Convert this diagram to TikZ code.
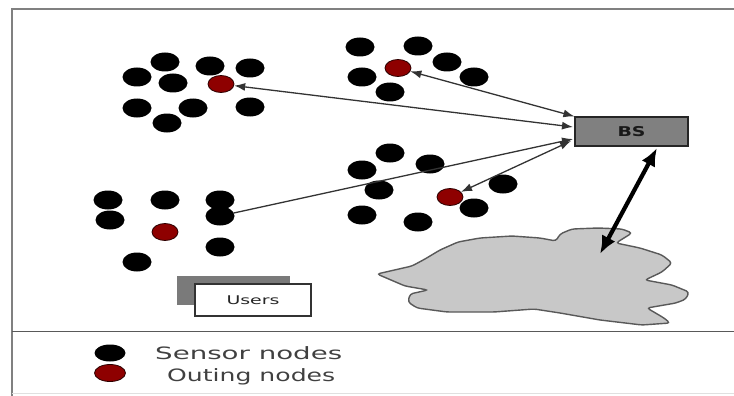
\documentclass[tikz,border=0pt]{standalone}
\usepackage{fontspec}
\setmainfont{DejaVu Sans}
\usetikzlibrary{shapes.geometric,arrows.meta}
\definecolor{outred}{HTML}{8E0000}
\definecolor{frame}{HTML}{808080}
\definecolor{cloudfill}{HTML}{C8C8C8}
\definecolor{bsfill}{HTML}{808080}
\definecolor{txtgray}{HTML}{404040}
\begin{document}
\begin{tikzpicture}[x=1pt,y=-1pt,
  sensor/.style={ellipse,fill=black,minimum width=29pt,minimum height=19pt,inner sep=0pt},
  outing/.style={ellipse,fill=outred,draw=black!70!outred,line width=0.8pt,minimum width=26pt,minimum height=17pt,inner sep=0pt},
  link/.style={draw=black!80,line width=1.3pt},
  >={Latex[length=11pt,width=8pt]},
  wide/.style={inner sep=0pt,text=txtgray}
]
\useasboundingbox (0,0) rectangle (734,396);

% frame
\draw[frame,line width=2pt] (12,396) -- (12,9.5) -- (734,9.5);
\draw[black!65,line width=1.4pt] (12,331.5) -- (734,331.5);
\draw[black!12,line width=1pt] (12,393) -- (734,393);

% cluster 1
\node[sensor] (c1a) at (165,62) {};
\node[sensor] (c1b) at (210,66) {};
\node[sensor] (c1c) at (250,68) {};
\node[sensor] (c1d) at (137,77) {};
\node[sensor] (c1e) at (173,83) {};
\node[outing] (c1r) at (221,84) {};
\node[sensor] (c1f) at (137,108) {};
\node[sensor] (c1g) at (193,108) {};
\node[sensor] (c1h) at (250,107) {};
\node[sensor] (c1i) at (167,123) {};

% cluster 2
\node[sensor] (c2a) at (360,47) {};
\node[sensor] (c2b) at (418,46) {};
\node[sensor] (c2c) at (447,62) {};
\node[outing] (c2r) at (398,68) {};
\node[sensor] (c2d) at (362,77) {};
\node[sensor] (c2e) at (474,77) {};
\node[sensor] (c2f) at (390,92) {};

% cluster 3
\node[sensor] (c3a) at (390,153) {};
\node[sensor] (c3b) at (430,164) {};
\node[sensor] (c3c) at (362,170) {};
\node[sensor] (c3d) at (379,190) {};
\node[outing] (c3r) at (450,197) {};
\node[sensor] (c3e) at (503,184) {};
\node[sensor] (c3f) at (474,208) {};
\node[sensor] (c3g) at (362,215) {};
\node[sensor] (c3h) at (418,222) {};

% cluster 4
\node[sensor] (c4a) at (108,200) {};
\node[sensor] (c4b) at (165,200) {};
\node[sensor] (c4c) at (220,200) {};
\node[sensor] (c4d) at (110,220) {};
\node[sensor] (c4e) at (220,216) {};
\node[outing] (c4r) at (165,232) {};
\node[sensor] (c4f) at (220,247) {};
\node[sensor] (c4g) at (137,262) {};

% base station
\node[draw=black!85,line width=1.2pt,fill=bsfill,minimum width=113pt,minimum height=29pt,inner sep=0pt]
  (bs) at (631.5,131.5) {\resizebox{28pt}{\height}{\fontsize{13.5}{15}\selectfont\bfseries\color{black!90}BS}};
\coordinate (bsw1) at (573,127);
\coordinate (bsw3) at (573,139);
\coordinate (bsw4) at (571,141);
\coordinate (bss) at (657,148);

% users
\node[fill=frame!95!black,minimum width=113pt,minimum height=29pt,inner sep=0pt] (ushade) at (233.5,290.5) {};
\node[draw=black!80,line width=1.2pt,fill=white,minimum width=116pt,minimum height=32pt,inner sep=0pt]
  (users) at (253,300) {\resizebox{53pt}{\height}{\fontsize{12}{14}\selectfont\color{black!85}Users}};

% cloud
\draw[black!65,line width=1.4pt,fill=cloudfill,rounded corners=3pt]
  (377,274) -- (412,266) -- (425,259) -- (440,250) -- (458,242) -- (480,238)
  -- (512,236) -- (540,238) -- (556,241) -- (560,234) -- (572,229) -- (598,228)
  -- (622,229) -- (632,233) -- (616,243) -- (640,248) -- (662,255) -- (672,263)
  -- (662,272) -- (645,280) -- (672,285) -- (689,292) -- (686,299) -- (676,303)
  -- (647,308) -- (664,318) -- (670,323) -- (642,325) -- (600,320) -- (560,313)
  -- (534,309) -- (494,312) -- (447,312) -- (417,308) -- (408,302) -- (410,294)
  -- (428,290) -- (405,286) -- cycle;
\coordinate (cloudin) at (600,254);

% links
\draw[link,<->] (c1r) -- (bsw1);
\draw[link,<->] (c2r) -- (bs.north west);
\draw[link,->] (c4e) -- (bsw3);
\draw[link,<->] (bsw4) -- (c3r);
\draw[line width=4.2pt,{Latex[length=18pt,width=15pt]}-{Latex[length=18pt,width=15pt]}] (bss) -- (cloudin);

% legend
\node[sensor,minimum width=31pt,minimum height=17pt] (lsens) at (110,353) {};
\node[outing,minimum width=31pt,minimum height=17pt] (lout) at (110,373) {};
\node[wide,anchor=west] (tsens) at (155,353) {\resizebox{187pt}{\height}{\fontsize{17}{20}\selectfont Sensor nodes}};
\node[wide,anchor=west] (tout) at (167,377) {\resizebox{168pt}{\height}{\fontsize{17}{20}\selectfont Outing nodes}};
\end{tikzpicture}
\end{document}
